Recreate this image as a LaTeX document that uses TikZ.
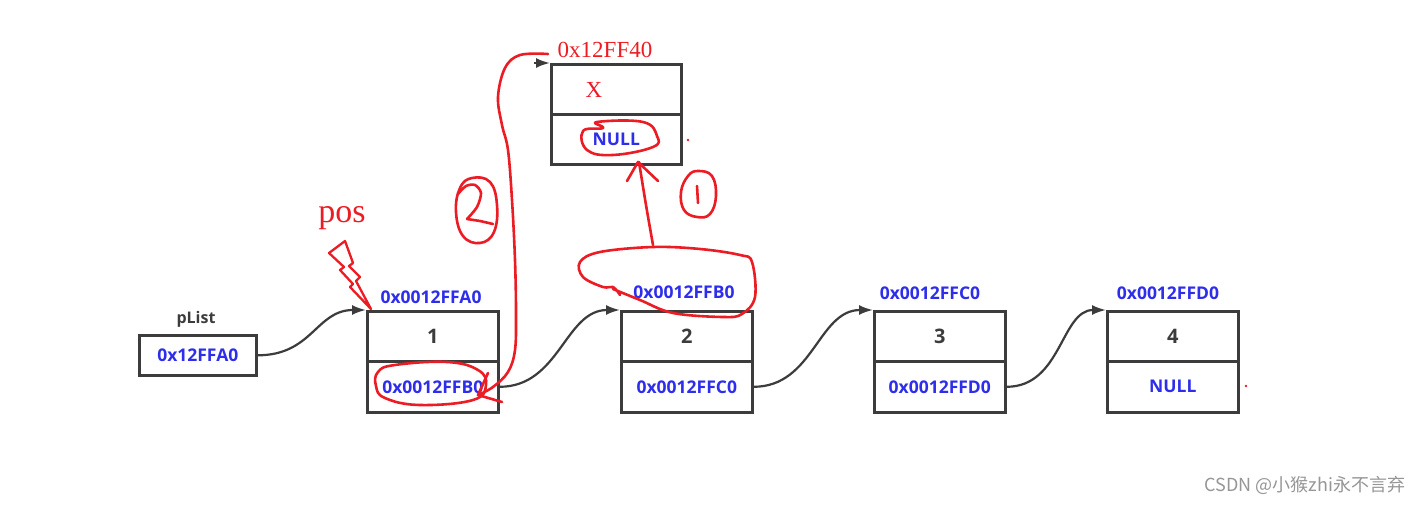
\documentclass[tikz,border=0pt]{standalone}
\usepackage{fontspec}
\setmainfont{Open Sans}
\newfontfamily\serifred{Liberation Serif}
\newfontfamily\cjk{Noto Sans CJK SC}
\usetikzlibrary{arrows.meta}
\definecolor{boxc}{RGB}{60,60,60}
\definecolor{lblue}{RGB}{45,45,235}
\definecolor{hred}{RGB}{236,28,36}
\definecolor{wm}{RGB}{150,150,150}
\begin{document}
\begin{tikzpicture}[x=1pt,y=-1pt,
  cell/.style={draw=boxc, line width=2.6pt, minimum width=131pt, minimum height=50pt, inner sep=0pt, anchor=north west},
  numtxt/.style={text=boxc, font=\bfseries\fontsize{20}{22}\selectfont},
  ptrtxt/.style={text=lblue, font=\bfseries\fontsize{17.5}{19}\selectfont},
  lbl/.style={text=lblue, font=\bfseries\fontsize{17.5}{19}\selectfont, inner sep=0pt},
  conn/.style={draw=boxc, line width=2.2pt, -{Latex[length=14pt,width=10pt]}},
  hand/.style={draw=hred, line width=2.6pt, line cap=round, line join=round},
  redtxt/.style={text=hred, inner sep=0pt}
]
\fill[white] (0,0) rectangle (1427,505);
\useasboundingbox (0,0) rectangle (1427,505);

% pList
\node[draw=boxc, line width=2.6pt, minimum width=117pt, minimum height=40pt, inner sep=0pt, anchor=north west, ptrtxt] (pl) at (138,334) {0x12FFA0};
\node[text=boxc, font=\bfseries\fontsize{16}{18}\selectfont, inner sep=0pt] (pllbl) at (196,319) {pList};

% node 1
\node[cell, numtxt] (n1t) at (366,310) {1};
\node[cell, ptrtxt, minimum height=51pt] (n1b) at (366,360) {0x0012FFB0};
\node[lbl] (n1a) at (431,297) {0x0012FFA0};
% node 2
\node[cell, numtxt] (n2t) at (620,310) {2};
\node[cell, ptrtxt, minimum height=51pt] (n2b) at (620,360) {0x0012FFC0};
\node[lbl] (n2a) at (684,292) {0x0012FFB0};
% node 3
\node[cell, numtxt] (n3t) at (873,310) {3};
\node[cell, ptrtxt, minimum height=51pt] (n3b) at (873,360) {0x0012FFD0};
\node[lbl] (n3a) at (930,293) {0x0012FFC0};
% node 4
\node[cell, numtxt] (n4t) at (1106,310) {4};
\node[cell, ptrtxt, minimum height=51pt] (n4b) at (1106,360) {NULL};
\node[lbl] (n4a) at (1168,293) {0x0012FFD0};
% new node X
\node[cell, minimum width=130pt] (xt) at (550,63) {};
\node[cell, ptrtxt, minimum width=130pt] (xb) at (550,113) {NULL};
\node[redtxt, font=\serifred\fontsize{23}{25}\selectfont] (xv) at (594,90) {X};
\node[redtxt, font=\serifred\fontsize{23}{25}\selectfont] (xa) at (605,50) {0x12FF40};
\node[redtxt, font=\serifred\fontsize{34}{36}\selectfont] (pos) at (342,218) {pos};

% connectors
\draw[conn] (pl.east) .. controls +(55,0) and +(-50,0) .. (n1t.north west);
\draw[conn] (n1b.east) .. controls +(60,0) and +(-55,0) .. (n2t.north west);
\draw[conn] (n2b.east) .. controls +(60,0) and +(-55,0) .. (n3t.north west);
\draw[conn] (n3b.east) .. controls +(55,0) and +(-45,0) .. (n4t.north west);
\coordinate (xin) at (534,63);
\draw[conn] (xin) -- (xt.north west);

% hand annotations
% lightning bolt
\draw[hand, line width=2.3pt] (329,253) -- (345,241) -- (353,263) -- (349,266) -- (360,277) -- (356,281) -- (371,309)
  -- (350,287) -- (353,284) -- (340,270) -- (344,267) -- cycle;
% ellipse around FFB0 in node 1
\draw[hand] plot[smooth cycle, tension=0.7] coordinates {(378,372) (395,365) (447,362) (478,370) (486,385) (473,400) (420,405) (385,398) (376,386)};
% stroke 2 with arrow
\draw[hand] plot[smooth, tension=0.6] coordinates {(548,54) (520,55) (505,68) (498,97) (502,125) (508,150) (512,200) (515,260) (516,313) (515,350) (508,372) (493,387) (478,395)};
\draw[hand] (488,373) -- (478,395) -- (502,402);
% circled 2
\draw[hand] plot[smooth cycle, tension=0.7] coordinates {(472,178) (490,182) (497,205) (494,232) (480,243) (463,236) (456,212) (460,188)};
\draw[hand] plot[smooth, tension=0.5] coordinates {(458,194) (466,186) (475,185) (481,193) (477,207) (467,219)};
\draw[hand] (467,219) -- (480,221) -- (493,224);
% ellipse around NULL in X
\draw[hand] plot[smooth cycle, tension=0.7] coordinates {(603,128) (583,131) (587,150) (613,155) (653,147) (657,136) (643,122) (597,122)};
% big ellipse around FFB0 label of node 2
\draw[hand] plot[smooth, tension=0.6] coordinates {(620,295) (613,287) (603,287) (583,277) (580,262) (600,252) (653,247) (700,249) (740,255) (752,262) (755,297) (742,314) (723,317) (673,313) (640,300) (613,289)};
% arrow 1
\draw[hand] plot[smooth, tension=0.5] coordinates {(653,245) (646,205) (639,162)};
\draw[hand] (627,181) -- (638,162) -- (658,181);
% circled 1
\draw[hand] plot[smooth cycle, tension=0.7] coordinates {(698,171) (712,176) (716,196) (710,214) (697,217) (684,210) (681,192) (688,176)};
\draw[hand] (697,186) -- (698,203);
% dots
\fill[hred] (688,140) circle (1.3);
\fill[hred] (1246,386) circle (1.3);

% watermark
\node[text=wm, font=\cjk\fontsize{18}{20}\selectfont, inner sep=0pt] (wmk) at (1305,485) {CSDN @小猴zhi永不言弃};
\end{tikzpicture}
\end{document}
